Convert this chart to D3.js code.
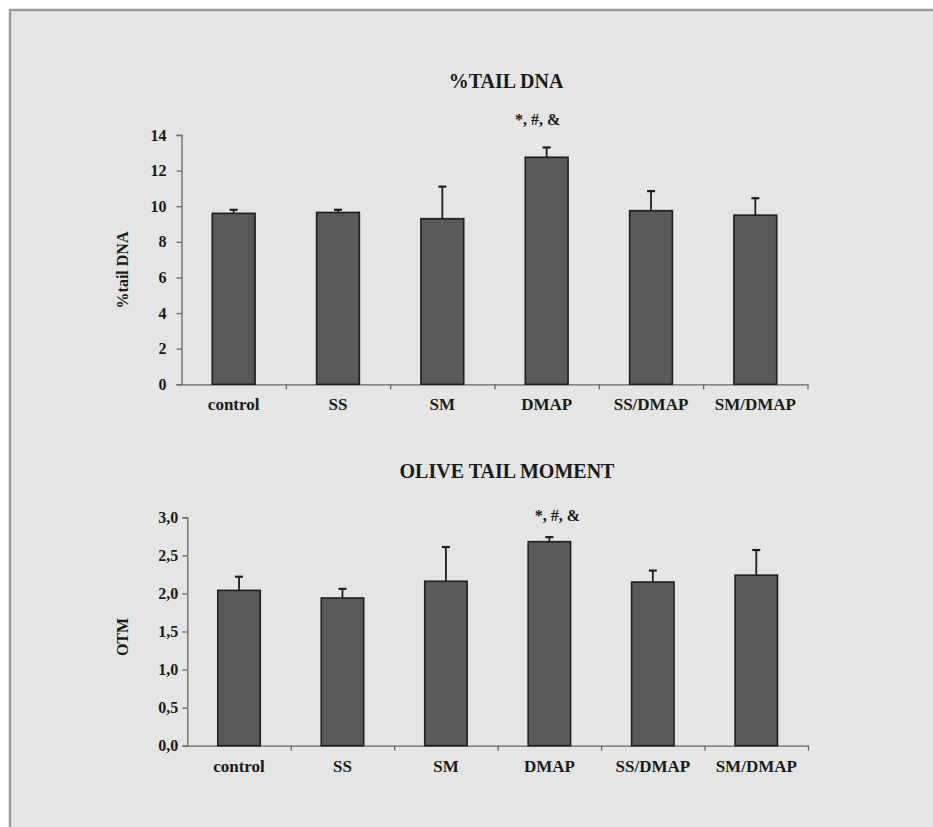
<!DOCTYPE html>
<html>
<head>
<meta charset="utf-8">
<script src="https://cdn.jsdelivr.net/npm/d3@7"></script>
<style>
  html, body { margin: 0; padding: 0; background: #ffffff; }
  svg { display: block; }
  svg text { font-family: "Liberation Serif", "DejaVu Serif", serif !important; font-weight: bold; fill: #1a1a1a; }
</style>
</head>
<body>
<script>
// ---------- data ----------
const categories = ["control", "SS", "SM", "DMAP", "SS/DMAP", "SM/DMAP"];

const tailDnaMean = [9.6, 9.65, 9.3, 12.75, 9.75, 9.5];
const tailDnaErr  = [0.2, 0.15, 1.8, 0.55, 1.1, 0.95];
const tailDnaTicks = [0, 2, 4, 6, 8, 10, 12, 14];
const tailDnaTickLabels = ["0", "2", "4", "6", "8", "10", "12", "14"];

const otmMean = [2.04, 1.94, 2.16, 2.68, 2.15, 2.24];
const otmErr  = [0.18, 0.12, 0.45, 0.06, 0.15, 0.33];
const otmTicks = [0, 0.5, 1.0, 1.5, 2.0, 2.5, 3.0];
const otmTickLabels = ["0,0", "0,5", "1,0", "1,5", "2,0", "2,5", "3,0"];

const titles = ["%TAIL DNA", "OLIVE TAIL MOMENT"];
const yLabels = ["%tail DNA", "OTM"];
const annotation = "*, #, &";
const annotatedCategory = "DMAP";

// ---------- drawing ----------
const W = 933, H = 827;
const FONT = "'Liberation Serif', 'DejaVu Serif', serif";
const svg = d3.select("body").append("svg").attr("width", W).attr("height", H)
  .attr("font-family", FONT).attr("font-weight", "bold");

svg.append("rect")
  .attr("x", 10).attr("y", 10).attr("width", W + 20).attr("height", H + 20)
  .attr("fill", "#e4e5e4").attr("stroke", "#9a9a9a").attr("stroke-width", 2.5);

function panel(cfg) {
  const x = d3.scaleBand().domain(categories)
    .range([cfg.x0, cfg.x1]).paddingInner(0.59).paddingOuter(0.295);
  const y = d3.scaleLinear().domain([0, cfg.ymax]).range([cfg.yBottom, cfg.yTop]);
  const g = svg.append("g");

  // title
  g.append("text").attr("x", cfg.titleX).attr("y", cfg.titleY)
    .attr("text-anchor", "middle").style("font-size", "20px").text(cfg.title);

  // y axis
  const ya = g.append("g").attr("transform", `translate(${cfg.x0},0)`)
    .call(d3.axisLeft(y).tickValues(cfg.ticks).tickSize(5).tickPadding(cfg.tickPad)
      .tickFormat((d, i) => cfg.tickLabels[i]));
  ya.attr("font-family", FONT).attr("font-size", 16);
  ya.select(".domain").attr("stroke", "#666").attr("stroke-width", 1.3);
  ya.selectAll(".tick line").attr("stroke", "#666").attr("stroke-width", 1.3);
  ya.selectAll(".tick text").style("font-size", "16px").attr("fill", "#1a1a1a");

  // x axis (boundary ticks)
  const xb = d3.scaleLinear().domain([0, categories.length]).range([cfg.x0, cfg.x1]);
  const xa = g.append("g").attr("transform", `translate(0,${cfg.yBottom})`)
    .call(d3.axisBottom(xb).tickValues(d3.range(1, categories.length + 1)).tickSize(5).tickSizeOuter(0).tickFormat(""));
  xa.select(".domain").attr("stroke", "#666").attr("stroke-width", 1.3);
  xa.selectAll(".tick line").attr("stroke", "#666").attr("stroke-width", 1.3);

  // category labels
  g.selectAll("text.cat").data(categories).join("text").attr("class", "cat")
    .attr("x", d => x(d) + x.bandwidth() / 2).attr("y", cfg.yBottom + 26)
    .attr("text-anchor", "middle").style("font-size", "17px").text(d => d);

  // bars
  g.selectAll("rect.bar").data(cfg.mean).join("rect").attr("class", "bar")
    .attr("x", (d, i) => x(categories[i]))
    .attr("y", d => y(d))
    .attr("width", x.bandwidth())
    .attr("height", d => cfg.yBottom - y(d))
    .attr("fill", "#595959").attr("stroke", "#1e1e1e").attr("stroke-width", 1.6);

  // error bars (upper only)
  const eb = g.selectAll("g.err").data(cfg.mean).join("g").attr("class", "err");
  eb.append("line")
    .attr("x1", (d, i) => x(categories[i]) + x.bandwidth() / 2)
    .attr("x2", (d, i) => x(categories[i]) + x.bandwidth() / 2)
    .attr("y1", d => y(d))
    .attr("y2", (d, i) => y(d + cfg.err[i]))
    .attr("stroke", "#1e1e1e").attr("stroke-width", 1.8);
  eb.append("line")
    .attr("x1", (d, i) => x(categories[i]) + x.bandwidth() / 2 - 4)
    .attr("x2", (d, i) => x(categories[i]) + x.bandwidth() / 2 + 4)
    .attr("y1", (d, i) => y(d + cfg.err[i]))
    .attr("y2", (d, i) => y(d + cfg.err[i]))
    .attr("stroke", "#1e1e1e").attr("stroke-width", 2.2);

  // significance annotation
  const ai = categories.indexOf(annotatedCategory);
  g.append("text")
    .attr("x", x(annotatedCategory) + x.bandwidth() / 2 + cfg.annDx)
    .attr("y", y(cfg.mean[ai] + cfg.err[ai]) - cfg.annGap)
    .attr("text-anchor", "middle").style("font-size", "16px").text(annotation);

  // y label
  g.append("text")
    .attr("transform", `translate(${cfg.yLabelX},${cfg.yLabelY}) rotate(-90)`)
    .attr("text-anchor", "middle").style("font-size", "16px").text(cfg.yLabel);
}

panel({
  x0: 181.5, x1: 807.5, yTop: 135, yBottom: 384.3, ymax: 14,
  mean: tailDnaMean, err: tailDnaErr, ticks: tailDnaTicks, tickLabels: tailDnaTickLabels,
  tickPad: 10,
  title: titles[0], titleX: 506, titleY: 88,
  yLabel: yLabels[0], yLabelX: 128, yLabelY: 270,
  annDx: -9, annGap: 22
});

panel({
  x0: 187.3, x1: 808, yTop: 517.3, yBottom: 745.7, ymax: 3.0,
  mean: otmMean, err: otmErr, ticks: otmTicks, tickLabels: otmTickLabels,
  tickPad: 4,
  title: titles[1], titleX: 507, titleY: 478,
  yLabel: yLabels[1], yLabelX: 128, yLabelY: 637,
  annDx: 8, annGap: 16
});
</script>
</body>
</html>
